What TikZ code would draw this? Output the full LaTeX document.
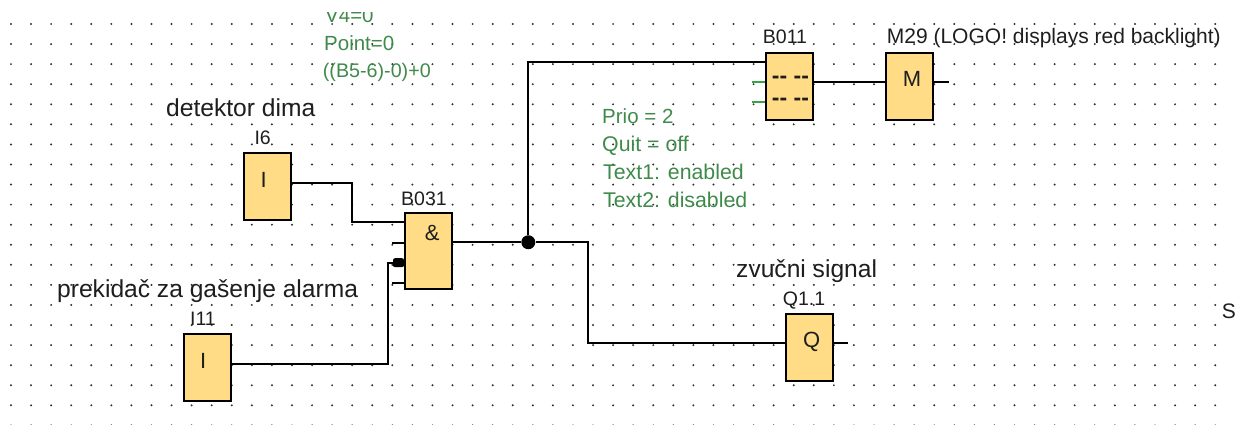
\documentclass[tikz,border=0pt]{standalone}
\usepackage{fontspec}
\setmainfont{Liberation Sans}
\definecolor{blockFill}{HTML}{FFDC85}
\definecolor{noteGreen}{HTML}{3F8A4A}
\definecolor{pinGreen}{HTML}{35A545}
\definecolor{dotGray}{HTML}{303030}
\definecolor{inkGray}{HTML}{1E1E1E}

\tikzstyle{logoBlock}=[rectangle,draw=black,fill=blockFill,line width=2pt,minimum width=47pt,minimum height=67pt,inner sep=0pt]
\tikzstyle{wireLine}=[line width=2pt,black]
\tikzstyle{greenPin}=[line width=2pt,pinGreen]
\tikzstyle{bigText}=[anchor=base west,inner sep=0pt,text=inkGray,font=\fontsize{24.6}{24.6}\selectfont]
\tikzstyle{smallText}=[anchor=base,inner sep=0pt,text=inkGray,font=\fontsize{19.5}{19.5}\selectfont]
\tikzstyle{leftText}=[anchor=base west,inner sep=0pt,text=inkGray,font=\fontsize{21}{21}\selectfont]
\tikzstyle{noteText}=[anchor=base west,inner sep=0pt,text=noteGreen,font=\fontsize{20.5}{20.5}\selectfont]
\tikzstyle{noteWide}=[noteText,font=\fontsize{21.3}{21.3}\selectfont]
\tikzstyle{blockLetter}=[anchor=base,inner sep=0pt,text=inkGray,font=\fontsize{22}{22}\selectfont]
\tikzstyle{dashText}=[anchor=base,inner sep=0pt,text=inkGray,font=\bfseries\fontsize{23}{23}\selectfont]

\begin{document}
\begin{tikzpicture}[x=1pt,y=-1pt]

  \useasboundingbox (0,0) rectangle (1236,425);
  \clip (0,0) rectangle (1236,425);

  % dots
  \foreach \i in {0,...,60}
    \foreach \j in {0,...,20}
      \fill[dotGray] ({11+20.07*\i},{24+20.07*\j}) circle (1.1pt);

  % blocks
  \node[logoBlock] (i6) at (267.6,186.5) {};
  \node[logoBlock] (i11) at (207.3,367.5) {};
  \node[logoBlock,minimum height=75.5pt] (b031) at (428.5,251) {};
  \node[logoBlock] (b011) at (789.3,86.5) {};
  \node[logoBlock] (m29) at (909.5,86.5) {};
  \node[logoBlock] (q11) at (809.5,347.2) {};

  % letters in the blocks
  \node[blockLetter] (i6sign) at (263.7,187.7) {I};
  \node[blockLetter] (i11sign) at (203.3,368) {I};
  \node[blockLetter] (b031sign) at (432.3,240) {\&};
  \node[blockLetter] (m29sign) at (912,86.7) {M};
  \node[blockLetter] (q11sign) at (811.7,347.7) {Q};
  \node[dashText] (b011line1) at (790.5,84) {-{}- -{}-};
  \node[dashText] (b011line2) at (790.5,105.5) {-{}- -{}-};

  % names over the blocks
  \node[smallText] (i6name) at (262.7,145) {I6};
  \node[smallText] (i11name) at (203,325.7) {I11};
  \node[smallText] (b031name) at (424,205.3) {B031};
  \node[smallText] (b011name) at (785,43.3) {B011};
  \node[leftText] (m29name) at (886.7,43.3) {M29 (LOGO! displays red backlight)};
  \node[smallText] (q11name) at (804,305.7) {Q1.1};

  % captions
  \node[bigText] (smoke) at (166,116.7) {detektor dima};
  \node[bigText] (switch) at (57,297.3) {prekidač za gašenje alarma};
  \node[bigText] (sound) at (736,277.7) {zvučni signal};
  \node[leftText] (edge) at (1221.7,318.3) {S};

  % parameters
  \begin{scope}
    \clip (300,13) rectangle (500,40);
    \node[noteText] (v4) at (325,23) {V4=0};
  \end{scope}
  \node[noteText] (point) at (324,50.7) {Point=0};
  \node[noteText,font=\fontsize{19.7}{19.7}\selectfont] (formula) at (322.7,78) {((B5-6)-0)+0};
  \node[noteText] (prio) at (602,123.4) {Prio = 2};
  \node[noteWide] (quit) at (602,151) {Quit = off};
  \node[noteWide] (text1) at (603,179) {Text1: enabled};
  \node[noteWide] (text2) at (603,207) {Text2: disabled};

  % connections
  \node[circle,fill=black,inner sep=0pt,minimum size=14pt] (dot1) at (528.3,242.25) {};
  \node[rectangle,fill=black,rounded corners=2pt,inner sep=0pt,minimum width=11pt,minimum height=9pt] (b031neg) at (398.5,262.7) {};
  \coordinate (i6bend) at (352,182.5);
  \coordinate (i11bend) at (388,262.7);
  \coordinate (q11bend) at (588,242.25);
  \coordinate (b031pin2) at (392,242.7);
  \coordinate (b031pin4) at (392,283);
  \coordinate (b011pin2) at (752,82);
  \coordinate (b011pin3) at (752,102.3);
  \coordinate (m29end) at (949,82);
  \coordinate (q11end) at (848.3,343.2);

  \path[draw,wireLine]([yshift=-30.5]i6.north east)--(i6bend)|-([yshift=-10]b031.north west);
  \path[draw,wireLine](b031pin2)--(b031pin2-|b031.west);
  \path[draw,wireLine](b031pin4)--(b031pin4-|b031.west);
  \path[draw,wireLine]([yshift=-30.5]i11.north east)-|(i11bend)--(b031neg);
  \path[draw,wireLine]([yshift=-30]b031.north east)--(dot1);
  \path[draw,wireLine](dot1)|-([yshift=-10]b011.north west);
  \path[draw,wireLine](dot1)--(q11bend)|-([yshift=-30.5]q11.north west);
  \path[draw,wireLine]([yshift=-30]b011.north east)--([yshift=-30]m29.north west);
  \path[draw,wireLine]([yshift=-30]m29.north east)--(m29end);
  \path[draw,wireLine]([yshift=-30.5]q11.north east)--(q11end);
  \path[draw,greenPin](b011pin2)--(b011pin2-|b011.west);
  \path[draw,greenPin](b011pin3)--(b011pin3-|b011.west);

\end{tikzpicture}
\end{document}
